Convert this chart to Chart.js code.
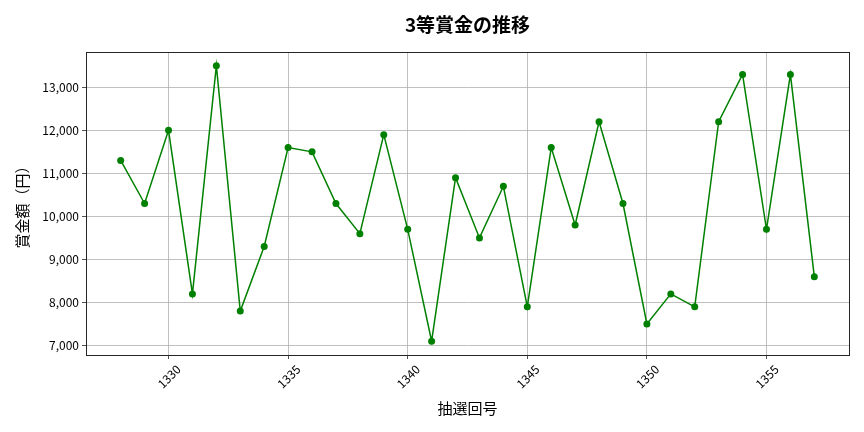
<!DOCTYPE html>
<html>
<head>
<meta charset="utf-8">
<script src="https://cdn.jsdelivr.net/npm/chart.js@4.4.0/dist/chart.umd.min.js"></script>
<style>
html,body{margin:0;padding:0;background:#fff;}
#wrap{width:864px;height:432px;}
</style>
</head>
<body>
<div id="wrap"><canvas id="c" width="864" height="432"></canvas></div>
<script>
const draws = [1328,1329,1330,1331,1332,1333,1334,1335,1336,1337,1338,1339,1340,1341,1342,1343,1344,1345,1346,1347,1348,1349,1350,1351,1352,1353,1354,1355,1356,1357];
const prizes = [11300,10300,12000,8200,13500,7800,9300,11600,11500,10300,9600,11900,9700,7100,10900,9500,10700,7900,11600,9800,12200,10300,7500,8200,7900,12200,13300,9700,13300,8600];
const xTicks = [1330,1335,1340,1345,1350,1355];
const yTicks = [7000,8000,9000,10000,11000,12000,13000];
const titleText = '3等賞金の推移';
const xLabel = '抽選回号';
const yLabel = '賞金額（円）';

const points = draws.map((d,i)=>({x:d,y:prizes[i]}));
const xPad = (Math.max(...draws)-Math.min(...draws))*0.05;
const yPad = (Math.max(...prizes)-Math.min(...prizes))*0.05;
const JP = '"Noto Sans CJK JP", "Noto Sans", sans-serif';

const frame = {
  id:'frame',
  afterDatasetsDraw(chart){
    const a = chart.chartArea, ctx = chart.ctx;
    ctx.save();
    ctx.strokeStyle = '#262626';
    ctx.lineWidth = 1;
    ctx.strokeRect(Math.round(a.left)+0.5, Math.round(a.top)+0.5, Math.round(a.right-a.left), Math.round(a.bottom-a.top));
    ctx.restore();
  }
};
const plotTitle = {
  id:'plotTitle',
  afterDraw(chart){
    const a = chart.chartArea, ctx = chart.ctx;
    ctx.save();
    ctx.fillStyle = '#000';
    ctx.font = 'bold 19px ' + JP;
    ctx.textAlign = 'center';
    ctx.textBaseline = 'middle';
    ctx.fillText(titleText, (a.left+a.right)/2, 25);
    ctx.restore();
  }
};

new Chart(document.getElementById('c'), {
  type:'line',
  data:{datasets:[{
    data:points,
    borderColor:'#008000',
    backgroundColor:'#008000',
    borderWidth:1.5,
    pointRadius:3.5,
    pointHoverRadius:3.5,
    pointBorderWidth:0,
    tension:0,
    clip:false
  }]},
  options:{
    responsive:false,
    animation:false,
    devicePixelRatio:1,
    layout:{padding:{left:0,right:15,top:52,bottom:0}},
    plugins:{
      legend:{display:false},
      tooltip:{enabled:false},
      title:{display:false}
    },
    scales:{
      x:{
        type:'linear',
        min:Math.min(...draws)-xPad,
        max:Math.max(...draws)+xPad,
        afterBuildTicks(s){ s.ticks = xTicks.map(v=>({value:v})); },
        afterFit(s){ s.height = 77; },
        ticks:{
          color:'#000',
          font:{family:JP,size:12},
          minRotation:45,maxRotation:45,padding:3,labelOffset:10,
          callback:v=>String(v)
        },
        grid:{color:'#b0b0b0',lineWidth:0.8,tickColor:'#262626',tickLength:4,drawTicks:true},
        border:{display:false},
        title:{display:true,text:xLabel,color:'#000',
          font:{family:JP,size:15,lineHeight:1.2},
          padding:{top:4,bottom:15}}
      },
      y:{
        type:'linear',
        min:Math.min(...prizes)-yPad,
        max:Math.max(...prizes)+yPad,
        afterBuildTicks(s){ s.ticks = yTicks.map(v=>({value:v})); },
        afterFit(s){ s.width = 86; },
        ticks:{
          color:'#000',
          font:{family:JP,size:12},
          padding:3,
          callback:v=>v.toLocaleString('en-US')
        },
        grid:{color:'#b0b0b0',lineWidth:0.8,tickColor:'#262626',tickLength:4,drawTicks:true},
        border:{display:false},
        title:{display:true,text:yLabel,color:'#000',
          font:{family:JP,size:15,lineHeight:1.2},
          padding:{top:13,bottom:4}}
      }
    }
  },
  plugins:[frame, plotTitle]
});
</script>
</body>
</html>
